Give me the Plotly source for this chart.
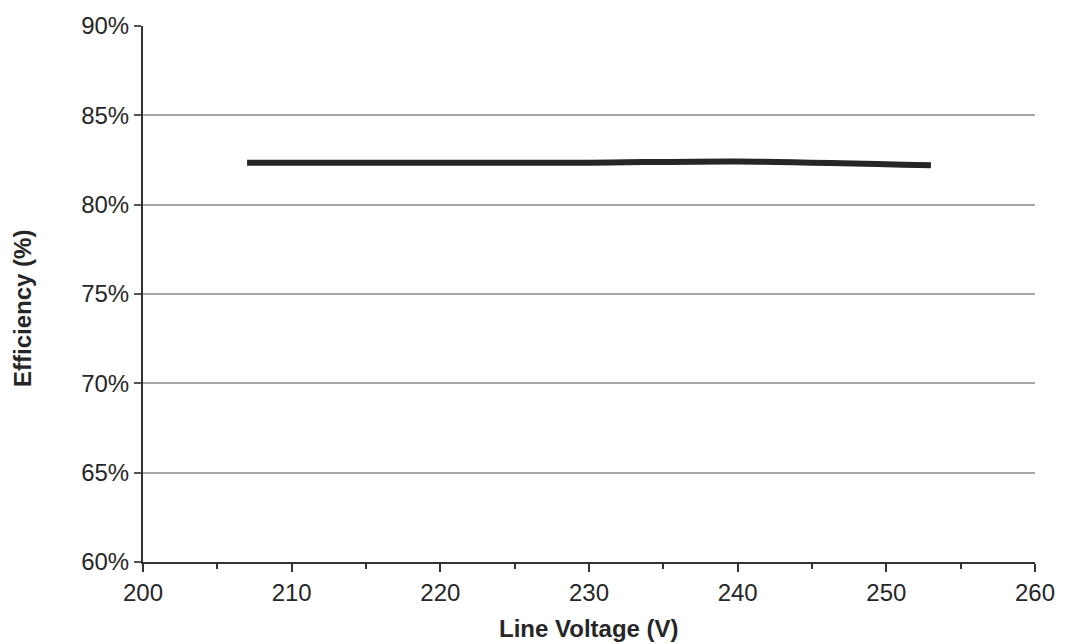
import plotly.graph_objects as go

voltage = [207, 220, 230, 240, 253]
efficiency = [82.35, 82.35, 82.35, 82.42, 82.2]

x_ticks = [200, 210, 220, 230, 240, 250, 260]
y_ticks = [60, 65, 70, 75, 80, 85, 90]

FONT = "Liberation Sans, Arial, sans-serif"
TXT = "#262626"

fig = go.Figure()
fig.add_trace(go.Scatter(
    x=voltage, y=efficiency, mode="lines",
    line=dict(color="#262626", width=6, shape="spline", smoothing=0.8),
    showlegend=False, hoverinfo="skip",
))

fig.update_layout(
    width=1067, height=643,
    margin=dict(l=143, r=26, t=22, b=81),
    paper_bgcolor="white", plot_bgcolor="white",
    font=dict(family=FONT, size=24, color=TXT),
    xaxis=dict(
        range=[200, 260], tickvals=x_ticks, ticktext=[str(v) for v in x_ticks],
        showgrid=False, zeroline=False,
        showline=True, linecolor="#333333", linewidth=2,
        ticks="outside", ticklen=8, tickwidth=2, tickcolor="#333333",
        minor=dict(dtick=5, ticks="outside", ticklen=5, tickwidth=2, tickcolor="#333333", showgrid=False),
        tickfont=dict(size=24, color=TXT, family=FONT),
    ),
    yaxis=dict(
        range=[60, 90], tickvals=y_ticks, ticktext=[f"{v}%" for v in y_ticks],
        showgrid=True, gridcolor="#a6a6a6", gridwidth=1.5, zeroline=False,
        showline=True, linecolor="#333333", linewidth=2,
        ticks="outside", ticklen=7, tickwidth=1.5, tickcolor="#555555",
        tickfont=dict(size=24, color=TXT, family=FONT),
    ),
    annotations=[
        dict(text="<b>Line Voltage (V)</b>", xref="paper", yref="paper", x=0.5, y=0,
             xanchor="center", yanchor="middle", yshift=-66, showarrow=False,
             font=dict(size=24, color=TXT, family=FONT)),
        dict(text="<b>Efficiency (%)</b>", xref="paper", yref="paper", x=0, y=0.5,
             xanchor="center", yanchor="middle", xshift=-121, yshift=-15, textangle=-90,
             showarrow=False, font=dict(size=24, color=TXT, family=FONT)),
    ],
)

fig.write_html("out.html", config={"displayModeBar": False},
               post_script="document.body.style.margin='0';document.body.style.overflow='hidden';")
